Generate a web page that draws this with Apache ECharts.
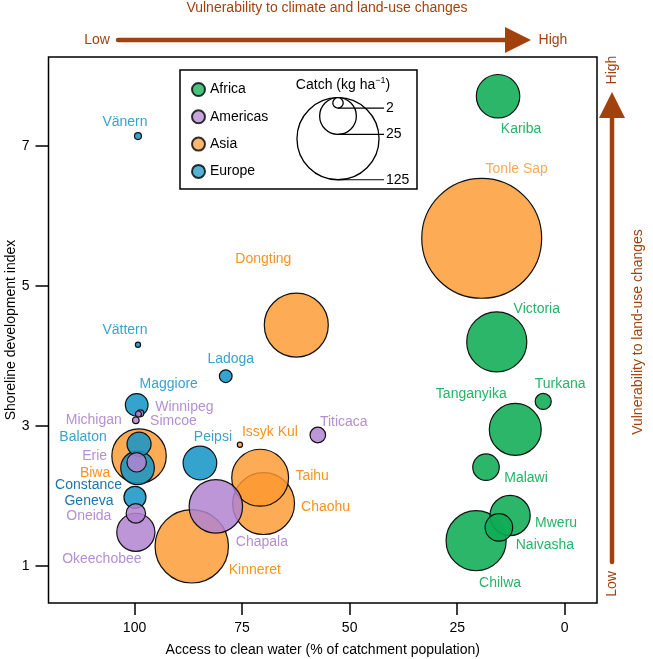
<!DOCTYPE html>
<html>
<head>
<meta charset="utf-8">
<script src="https://cdn.jsdelivr.net/npm/echarts@6/dist/echarts.min.js"></script>
<style>
html,body{margin:0;padding:0;background:#fff;}
#chart{width:653px;height:659px;}
</style>
</head>
<body>
<div id="chart"></div>
<script>
// ---------------- data ----------------
const regions = ['Africa', 'Americas', 'Asia', 'Europe'];
const lakes = ['Kariba','Victoria','Turkana','Tanganyika','Malawi','Mweru','Naivasha','Chilwa',
  'Michigan','Winnipeg','Simcoe','Erie','Oneida','Okeechobee','Chapala','Titicaca',
  'Tonle Sap','Dongting','Issyk Kul','Taihu','Chaohu','Kinneret','Biwa',
  'Vänern','Vättern','Ladoga','Maggiore','Peipsi','Balaton','Constance','Geneva'];
const lakeRegion = ['Africa','Africa','Africa','Africa','Africa','Africa','Africa','Africa',
  'Americas','Americas','Americas','Americas','Americas','Americas','Americas','Americas',
  'Asia','Asia','Asia','Asia','Asia','Asia','Asia',
  'Europe','Europe','Europe','Europe','Europe','Europe','Europe','Europe'];
const accessWater = [15.5,15.8,5.0,11.5,18.3,12.7,15.3,20.6,
  99.7,98.65,99.1,99.5,99.7,99.7,81.1,57.4,
  19.3,62.4,75.5,70.8,70.0,86.7,98.95,
  99.2,99.2,78.8,99.5,84.8,98.95,99.3,99.9];
const shorelineIndex = [7.71,4.20,3.35,2.95,2.41,1.72,1.55,1.36,
  3.08,3.18,3.17,2.48,1.75,1.48,1.85,2.87,
  5.68,4.44,2.73,2.26,1.89,1.28,2.57,
  7.14,4.16,3.71,3.30,2.47,2.74,2.40,1.98];
const catchKgHa = [35,67,4.8,50,13,30,14,67,
  0.8,0.9,0.67,7,7,27,53,4.5,
  267,76,0.5,60,71,100,55,
  0.9,0.5,3,9.5,21,10.7,21,9];
const sizeLegendValues = [2, 25, 125];
const xTicks = [0, 25, 50, 75, 100];
const yTicks = [1, 3, 5, 7];

// ---------------- styles / layout ----------------
const FONT = '"Liberation Sans", Arial, Helvetica, sans-serif';
const fillColor = {
  Africa: 'rgba(14,172,84,0.88)',
  Americas: 'rgba(176,132,208,0.85)',
  Asia: 'rgba(252,152,48,0.82)',
  Europe: 'rgba(24,150,198,0.88)'
};
const legendColor = {Africa:'#1ab35c', Americas:'#b890d4', Asia:'#fda54c', Europe:'#2a9dca'};
const labelColor = {Africa:'#25b468', Americas:'#b48fd2', Asia:'#f7931e', Europe:'#3ba2cc'};
const labelColorOverride = {'Tonle Sap':'#f9a95e', 'Constance':'#1b75ae', 'Geneva':'#1b75ae'};
const labelOffset = {
  Kariba:[23,33], 'Tonle Sap':[35,-69], Victoria:[40,-33], Turkana:[17,-17],
  Tanganyika:[-44,-35], Malawi:[40,11], Mweru:[46,8], Naivasha:[46,18], Chilwa:[24,42],
  Dongting:[-33,-66], 'Issyk Kul':[30,-13], Taihu:[52,-2], Chaohu:[62,4],
  Kinneret:[63,24], Biwa:[-44,17], Chapala:[46,36], Titicaca:[26,-13],
  'Vänern':[-13,-14], 'Vättern':[-13,-15], Ladoga:[5,-17], Maggiore:[32,-21],
  Winnipeg:[44,-6], Simcoe:[35,7], Michigan:[-42,0], Balaton:[-56,-7],
  Peipsi:[13,-26], Erie:[-42,-6], Constance:[-49,17], Geneva:[-46,4],
  Oneida:[-47,3], Okeechobee:[-34,27]
};
const K = 3.67; // px radius per sqrt(kg/ha)
const radiusOf = c => K * Math.sqrt(c);
const BROWN = '#a1420e';

// build data, largest first so small circles sit on top
const idx = lakes.map((_, i) => i).sort((a, b) => catchKgHa[b] - catchKgHa[a]);
const lakeData = idx.map(i => {
  const n = lakes[i], r = lakeRegion[i];
  return {
    name: n,
    value: [accessWater[i], shorelineIndex[i], catchKgHa[i]],
    itemStyle: {color: fillColor[r]},
    label: {color: labelColorOverride[n] || labelColor[r], offset: labelOffset[n]}
  };
});

const chart = echarts.init(document.getElementById('chart'), null, {renderer: 'canvas'});

// size legend graphics
const box = {x: 180, y: 70, w: 237, h: 119};
const cx = 338, topY = 97.7;
const sizeGraphics = [];
sizeLegendValues.slice().reverse().forEach(v => {
  const r = radiusOf(v);
  sizeGraphics.push({type:'circle', shape:{cx:cx, cy:topY + r, r:r},
    style:{fill:'#fff', stroke:'#000', lineWidth:1.3}, silent:true});
});
sizeLegendValues.forEach(v => {
  const r = radiusOf(v);
  const yb = topY + 2 * r;
  sizeGraphics.push({type:'line', shape:{x1:cx, y1:yb, x2:384, y2:yb},
    style:{stroke:'#000', lineWidth:1.2}, silent:true});
  sizeGraphics.push({type:'text', x:386, y:yb, style:{text:String(v), fill:'#000',
    font:'14px ' + FONT, textVerticalAlign:'middle', textAlign:'left'}, silent:true});
});

const option = {
  backgroundColor: '#fff',
  animation: false,
  textStyle: {fontFamily: FONT},
  grid: {left: 48.5, right: 56, top: 57, bottom: 56, show: true, borderColor: '#000',
    borderWidth: 1.5, backgroundColor: 'transparent', containLabel: false, outerBoundsMode: 'none'},
  xAxis: {
    type: 'value', inverse: true, min: -7.5, max: 120,
    name: 'Access to clean water (% of catchment population)',
    nameLocation: 'middle', nameGap: 40, nameMoveOverlap: false,
    nameTextStyle: {color: '#000', fontSize: 14, fontFamily: FONT},
    axisLine: {show: false, onZero: false},
    axisTick: {show: true, length: 12, customValues: xTicks, lineStyle: {color: '#000', width: 1.5}},
    axisLabel: {customValues: xTicks, color: '#000', fontSize: 14, margin: 18, fontFamily: FONT},
    splitLine: {show: false}
  },
  yAxis: {
    type: 'value', min: 0.47, max: 8.27,
    name: 'Shoreline development index',
    nameLocation: 'middle', nameGap: 30, nameMoveOverlap: false,
    nameTextStyle: {color: '#000', fontSize: 14, fontFamily: FONT},
    axisLine: {show: false, onZero: false},
    axisTick: {show: true, length: 13, customValues: yTicks, lineStyle: {color: '#000', width: 1.5}},
    axisLabel: {customValues: yTicks, color: '#000', fontSize: 14, margin: 19, fontFamily: FONT},
    splitLine: {show: false}
  },
  legend: {
    data: regions, orient: 'vertical', left: 186, top: 77,
    icon: 'circle', itemWidth: 13, itemHeight: 13, itemGap: 12.3,
    textStyle: {fontSize: 14, color: '#000', fontFamily: FONT},
    selectedMode: false
  },
  series: [
    ...regions.map(r => ({
      name: r, type: 'scatter', data: [],
      itemStyle: {color: legendColor[r], borderColor: '#000', borderWidth: 1.2}
    })),
    {
      name: 'lakes', type: 'scatter', data: lakeData,
      symbolSize: v => 2 * radiusOf(v[2]),
      itemStyle: {borderColor: '#111', borderWidth: 1.2, opacity: 1},
      label: {show: true, position: 'inside', formatter: '{b}', fontSize: 14,
        fontFamily: FONT, align: 'center', verticalAlign: 'middle'},
      emphasis: {disabled: true},
      z: 3
    }
  ],
  graphic: [
    {type:'rect', shape:{x:box.x, y:box.y, width:box.w, height:box.h},
      style:{fill:'#fff', stroke:'#000', lineWidth:1.5}, z: 0, silent:true},
    ...sizeGraphics,
    {type:'text', x:343, y:85, silent:true,
      style:{text:'Catch (kg ha{s|−1})', textAlign:'center', textVerticalAlign:'middle',
        font:'14px ' + FONT, fill:'#000', rich:{s:{fontSize:9, verticalAlign:'top', padding:[0,0,8,0], fontFamily: FONT}}}},
    // top arrow
    {type:'text', x:327, y:8, silent:true, style:{text:'Vulnerability to climate and land-use changes',
      fill:BROWN, font:'14px ' + FONT, textAlign:'center', textVerticalAlign:'middle'}},
    {type:'text', x:97, y:40, silent:true, style:{text:'Low', fill:BROWN, font:'14px ' + FONT,
      textAlign:'center', textVerticalAlign:'middle'}},
    {type:'text', x:553, y:40, silent:true, style:{text:'High', fill:BROWN, font:'14px ' + FONT,
      textAlign:'center', textVerticalAlign:'middle'}},
    {type:'line', shape:{x1:118, y1:40, x2:508, y2:40}, silent:true,
      style:{stroke:BROWN, lineWidth:4.5, lineCap:'round'}},
    {type:'polygon', shape:{points:[[505,27],[531,40],[505,53]]}, silent:true, style:{fill:BROWN}},
    // right arrow
    {type:'line', shape:{x1:612, y1:562, x2:612, y2:115}, silent:true,
      style:{stroke:BROWN, lineWidth:4.5, lineCap:'round'}},
    {type:'polygon', shape:{points:[[599,118],[612,92],[625,118]]}, silent:true, style:{fill:BROWN}},
    {type:'text', x:612, y:70, rotation:Math.PI/2, silent:true, style:{text:'High', fill:BROWN,
      font:'14px ' + FONT, textAlign:'center', textVerticalAlign:'middle'}},
    {type:'text', x:612, y:584, rotation:Math.PI/2, silent:true, style:{text:'Low', fill:BROWN,
      font:'14px ' + FONT, textAlign:'center', textVerticalAlign:'middle'}},
    {type:'text', x:638, y:332, rotation:Math.PI/2, silent:true, style:{text:'Vulnerability to land-use changes',
      fill:BROWN, font:'14px ' + FONT, textAlign:'center', textVerticalAlign:'middle'}}
  ]
};
chart.setOption(option);
</script>
</body>
</html>
